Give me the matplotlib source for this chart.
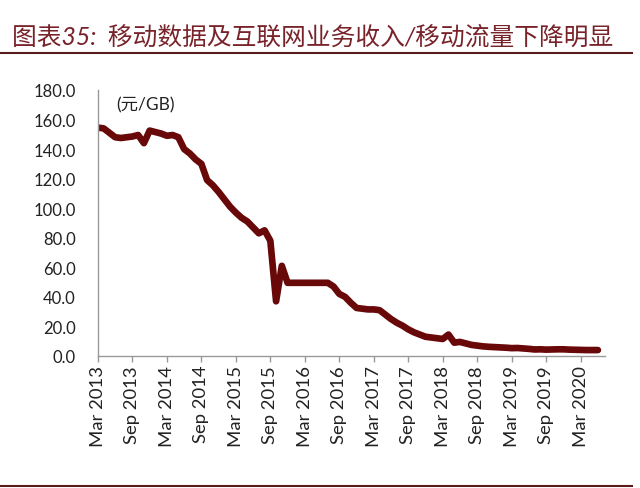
import matplotlib.pyplot as plt
import numpy as np
import pandas as pd
from matplotlib.lines import Line2D

plt.rcParams['font.family'] = ['Lato', 'Noto Sans CJK SC', 'DejaVu Sans']

# monthly data, Mar 2013 - Jun 2020 (元/GB)
months = pd.period_range('2013-03', periods=88, freq='M')
price = [
    154.5, 154.0, 151.0, 148.0, 147.5, 148.0, 148.5, 149.5, 144.0, 152.5,
    151.5, 150.5, 149.0, 149.5, 148.0, 140.0, 137.0, 133.0, 130.0, 119.0,
    115.5, 111.0, 106.0, 101.0, 97.0, 93.5, 91.0, 87.0, 83.0, 85.0,
    78.0, 37.0, 61.0, 49.5, 49.5, 49.5, 49.5, 49.5, 49.5, 49.5,
    49.5, 47.0, 42.0, 40.0, 36.0, 32.5, 32.0, 31.5, 31.5, 31.0,
    28.0, 25.0, 22.5, 20.5, 18.0, 16.0, 14.5, 13.0, 12.5, 12.0,
    11.5, 14.5, 9.0, 9.5, 8.5, 7.5, 7.0, 6.5, 6.2, 6.0,
    5.8, 5.6, 5.3, 5.4, 5.1, 4.8, 4.4, 4.5, 4.3, 4.4,
    4.5, 4.5, 4.3, 4.2, 4.1, 4.0, 4.0, 4.0,
]
title = '图表35:  移动数据及互联网业务收入/移动流量下降明显'
unit = '(元/GB)'

fig = plt.figure(figsize=(6.4, 4.89), dpi=100)
ax = fig.add_axes([0.153, 0.27, 0.792, 0.544])

x = np.arange(len(price))
ax.plot(x, price, color='#680808', lw=4.8,
        solid_joinstyle='round', solid_capstyle='round')

ax.set_xlim(0, 88.2)
ax.set_ylim(0, 180)

yt = np.arange(0, 181, 20)
ax.set_yticks(yt)
ax.set_yticklabels([f'{v:.1f}' for v in yt])
ax.tick_params(axis='y', length=0, pad=16, labelsize=12, colors='#222222')

xt = x[::6]
ax.set_xticks(xt)
ax.set_xticklabels([m.strftime('%b %Y') for m in months[::6]], rotation=90)
ax.tick_params(axis='x', length=4.5, width=1, color='#999999', pad=2,
               labelsize=13.3, labelcolor='#222222')

for s in ['top', 'right']:
    ax.spines[s].set_visible(False)
for s in ['left', 'bottom']:
    ax.spines[s].set_color('#999999')
    ax.spines[s].set_linewidth(1)

ax.text(0.036, 0.944, unit, transform=ax.transAxes, fontsize=12.5,
        va='center', ha='left', color='#222222')

fig.text(12 / 640, 1 - 37 / 489, title, fontsize=17.8, color='#78232a',
         va='center', ha='left', style='italic')
fig.add_artist(Line2D([0, 632 / 640], [1 - 54 / 489] * 2,
                      color='#5a1a1a', lw=1.5))
fig.add_artist(Line2D([0, 632 / 640], [1 - 487 / 489] * 2,
                      color='#5a1a1a', lw=1.5))

fig.savefig('out.png', dpi=100)
